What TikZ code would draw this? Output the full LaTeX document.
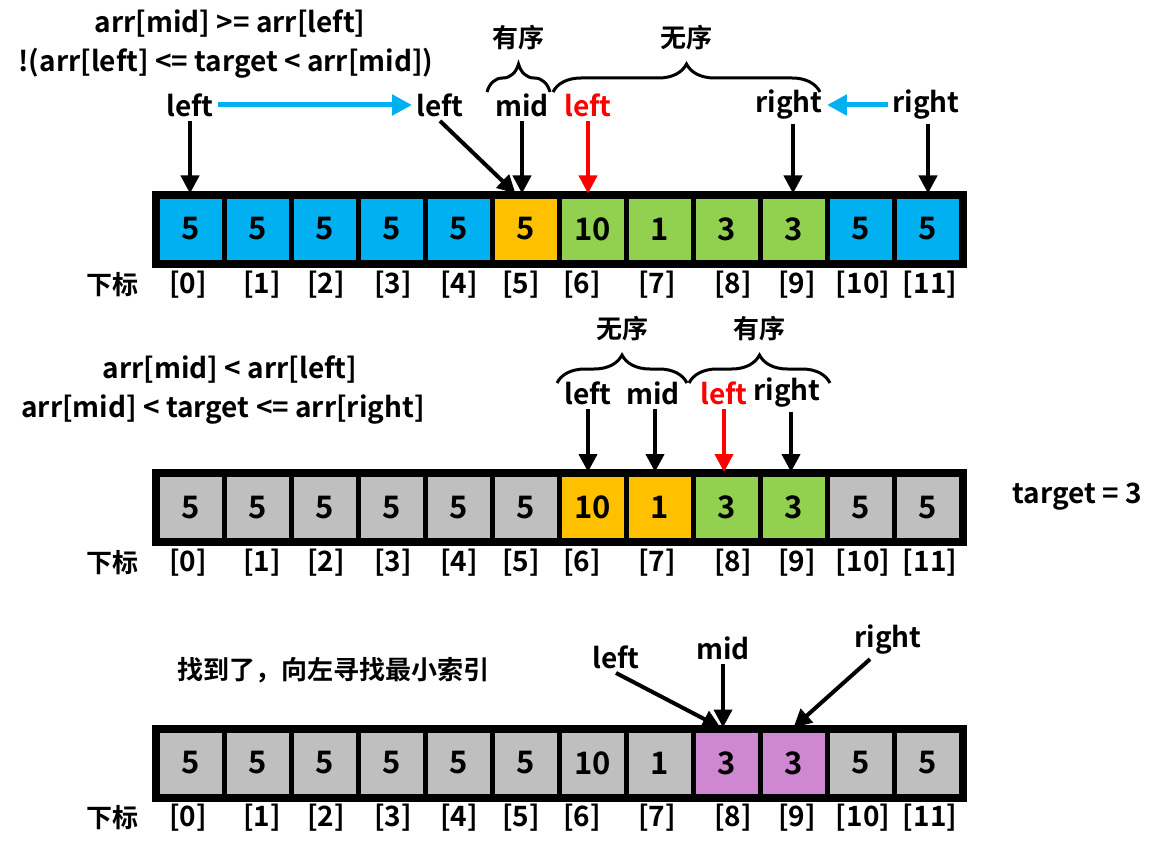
\documentclass[tikz,border=0pt]{standalone}
\usepackage{fontspec}
\setmainfont{Noto Sans CJK SC}[BoldFont={Noto Sans CJK SC Bold}]
\usetikzlibrary{arrows.meta,decorations.pathreplacing}
\definecolor{cellblue}{HTML}{00B0F0}
\definecolor{cellorange}{HTML}{FFC000}
\definecolor{cellgreen}{HTML}{92D050}
\definecolor{cellgray}{HTML}{BFBFBF}
\definecolor{cellpurple}{HTML}{CE87D0}
\colorlet{hitred}{red}
\def\idxpos{188/0,262/1,326/2,393/3,459/4,521/5,582/6,657/7,733/8,797/9,863/10,930/11}
\tikzset{cellbox/.style={draw=black, line width=2.5pt, minimum width=33.5pt,
        minimum height=33pt, inner sep=0pt, font=\fontsize{15.5}{18}\selectfont\bfseries},
    lab/.style={font=\fontsize{14}{16}\selectfont\bfseries, inner sep=2pt},
    zh/.style={font=\fontsize{13}{16}\selectfont\bfseries, inner sep=2pt},
    note/.style={font=\fontsize{14}{17}\selectfont\bfseries, inner sep=1pt},
    idx/.style={font=\fontsize{14}{17}\selectfont\bfseries, inner sep=1pt},
    ptr/.style={line width=2pt, -{Triangle[length=9pt,width=9pt]}},
    mv/.style={line width=2.5pt, draw=cellblue, -{Triangle[length=10pt,width=10pt]}},
    brc/.style={decorate, decoration={brace, amplitude=14pt}, line width=1.5pt}}

\begin{document}
\begin{tikzpicture}[x=0.5pt, y=-0.5pt]
    \useasboundingbox (0,0) rectangle (1159,850);

    % first pass
    \foreach \v/\c [count=\i from 0] in {5/cellblue,5/cellblue,5/cellblue,5/cellblue,
        5/cellblue,5/cellorange,10/cellgreen,1/cellgreen,3/cellgreen,3/cellgreen,
        5/cellblue,5/cellblue}
        \node[cellbox, fill=\c] (c1-\i) at ({190.5+67*\i},229) {\v};
    \draw[line width=3pt] (c1-0.north west) rectangle (c1-11.south east);
    \node[zh] (k1) at (112,285) {下标};
    \foreach \x/\n in \idxpos
        \node[idx] (i1-\n) at (\x,285) {[\n]};

    \node[note] (t1a) at (230,24) {arr[mid] >= arr[left]};
    \node[note] (t1b) at (226,63) {!(arr[left] <= target < arr[mid])};

    \node[lab] (l1a) at (190,105) {left};
    \node[lab] (l1b) at (440,105) {left};
    \node[lab] (m1)  at (522,105) {mid};
    \node[lab, text=hitred] (l1c) at (588,105) {left};
    \node[lab] (r1a) at (789,105) {right};
    \node[lab] (r1b) at (926,105) {right};
    \draw[mv] (l1a.east) -- (l1b.west);
    \draw[mv] (r1b.west) -- (r1a.east);
    \draw[ptr] (l1a.south) -- (l1a.south |- c1-0.north);
    \draw[ptr] (l1b.south) -- ([xshift=-5pt]c1-5.north);
    \draw[ptr] (m1.south) -- (m1.south |- c1-5.north);
    \draw[ptr, draw=hitred] (l1c.south) -- (l1c.south |- c1-6.north);
    \draw[ptr] ([xshift=2pt]r1a.south) -- ([xshift=2pt]r1a.south |- c1-9.north);
    \draw[ptr] ([xshift=1pt]r1b.south) -- ([xshift=1pt]r1b.south |- c1-11.north);

    \draw[brc] (487,92) -- (550,92) node[zh, midway, yshift=27pt] (s1a) {有序};
    \draw[brc] (553,92) -- (820,92) node[zh, midway, yshift=27pt] (s1b) {无序};

    % second pass
    \foreach \v/\c [count=\i from 0] in {5/cellgray,5/cellgray,5/cellgray,5/cellgray,
        5/cellgray,5/cellgray,10/cellorange,1/cellorange,3/cellgreen,3/cellgreen,
        5/cellgray,5/cellgray}
        \node[cellbox, fill=\c] (c2-\i) at ({190.5+67*\i},507.5) {\v};
    \draw[line width=3pt] (c2-0.north west) rectangle (c2-11.south east);
    \node[zh] (k2) at (112,563) {下标};
    \foreach \x/\n in \idxpos
        \node[idx] (i2-\n) at (\x,563) {[\n]};

    \node[note] (t2a) at (230,370) {arr[mid] < arr[left]};
    \node[note] (t2b) at (223,410) {arr[mid] < target <= arr[right]};
    \node[note] (tg) at (1077,497) {target = 3};

    \node[lab] (l2a) at (588,393) {left};
    \node[lab] (m2)  at (653,393) {mid};
    \node[lab, text=hitred] (l2b) at (724,393) {left};
    \node[lab] (r2)  at (787,393) {right};
    \draw[ptr] (l2a.south) -- (l2a.south |- c2-6.north);
    \draw[ptr] ([xshift=1pt]m2.south) -- ([xshift=1pt]m2.south |- c2-7.north);
    \draw[ptr, draw=hitred] (l2b.south) -- (l2b.south |- c2-8.north);
    \draw[ptr] ([xshift=2pt]r2.south) -- ([xshift=2pt]r2.south |- c2-9.north);

    \draw[brc] (557,383) -- (687,383) node[zh, midway, yshift=27pt] (s2a) {无序};
    \draw[brc] (689,383) -- (830,383) node[zh, midway, yshift=27pt] (s2b) {有序};

    % third pass
    \foreach \v/\c [count=\i from 0] in {5/cellgray,5/cellgray,5/cellgray,5/cellgray,
        5/cellgray,5/cellgray,10/cellgray,1/cellgray,3/cellpurple,3/cellpurple,
        5/cellgray,5/cellgray}
        \node[cellbox, fill=\c] (c3-\i) at ({190.5+67*\i},763) {\v};
    \draw[line width=3pt] (c3-0.north west) rectangle (c3-11.south east);
    \node[zh] (k3) at (112,818) {下标};
    \foreach \x/\n in \idxpos
        \node[idx] (i3-\n) at (\x,818) {[\n]};

    \node[zh] (t3) at (333,670) {找到了，向左寻找最小索引};

    \node[lab] (l3) at (616,657) {left};
    \node[lab] (m3) at (723,648) {mid};
    \node[lab] (r3) at (888,640) {right};
    \draw[ptr] (l3.south) -- ([xshift=-3pt]c3-8.north);
    \draw[ptr] (m3.south) -- (m3.south |- c3-8.north);
    \draw[ptr] ([xshift=-9pt]r3.south) -- (c3-9.north);
\end{tikzpicture}
\end{document}
